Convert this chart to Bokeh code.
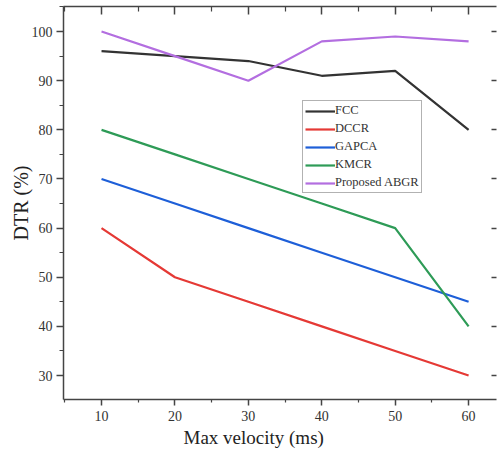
from bokeh.plotting import figure
from bokeh.models import Range1d, LinearAxis, Legend, LegendItem, FixedTicker, CustomJSTickFormatter, Title
from bokeh.embed import file_html
from bokeh.resources import INLINE

velocity = [10, 20, 30, 40, 50, 60]
fcc = [96, 95, 94, 91, 92, 80]
dccr = [60, 50, 45, 40, 35, 30]
gapca = [70, 65, 60, 55, 50, 45]
kmcr = [80, 75, 70, 65, 60, 40]
abgr = [100, 95, 90, 98, 99, 98]
x_ticks = [10, 20, 30, 40, 50, 60]
y_ticks = [30, 40, 50, 60, 70, 80, 90, 100]

FONT = "Liberation Serif"
AX = "#444444"

p = figure(width=500, height=453, output_backend="svg", toolbar_location=None,
           x_range=Range1d(4.82, 63.8), y_range=Range1d(25.12, 105.1),
           min_border_left=63, min_border_right=0, min_border_top=6, min_border_bottom=54,
           y_axis_label="DTR (%)")
p.outline_line_color = None
p.grid.visible = False
p.background_fill_color = "white"
p.border_fill_color = "white"

xt = FixedTicker(ticks=x_ticks, minor_ticks=[5, 15, 25, 35, 45, 55, 65])
yt = FixedTicker(ticks=y_ticks, minor_ticks=[25, 35, 45, 55, 65, 75, 85, 95, 105])

def style(ax):
    ax.axis_line_color = AX
    ax.axis_line_width = 1.5
    ax.major_tick_line_color = AX
    ax.minor_tick_line_color = AX
    ax.major_tick_line_width = 1.5
    ax.minor_tick_line_width = 1.2
    ax.major_label_text_font = FONT
    ax.major_label_text_font_size = "14px"
    ax.major_label_text_color = "#333333"
    ax.axis_label_text_font = FONT
    ax.axis_label_text_font_size = "20px"
    ax.axis_label_text_font_style = "normal"
    ax.axis_label_text_color = "#222222"

xa = p.xaxis[0]
xa.ticker = xt
style(xa)
xa.major_tick_out = 6
xa.major_tick_in = 0
xa.minor_tick_out = 3
xa.minor_tick_in = 0
xa.major_label_standoff = 5

ya = p.yaxis[0]
ya.ticker = yt
style(ya)
ya.major_tick_out = 7
ya.major_tick_in = 0
ya.minor_tick_out = 4
ya.minor_tick_in = 0
ya.major_label_standoff = 4
ya.axis_label_standoff = -3

blank = CustomJSTickFormatter(code="return ''")

top = LinearAxis(ticker=xt, formatter=blank)
style(top)
top.major_tick_in = 8
top.major_tick_out = 0
top.minor_tick_in = 5
top.minor_tick_out = 0
top.major_label_standoff = 0
p.add_layout(top, "above")

right = LinearAxis(ticker=yt, formatter=blank)
style(right)
right.axis_line_color = None
right.major_tick_in = 5
right.major_tick_out = 0
right.minor_tick_line_color = None
right.major_label_standoff = 0
p.add_layout(right, "right")

xtitle = Title(text="Max velocity (ms)", align="left", offset=120, standoff=3,
               text_font=FONT, text_font_size="19px", text_font_style="normal",
               text_color="#222222")
p.add_layout(xtitle, "below")

series = [("FCC", fcc, "#333333"), ("DCCR", dccr, "#e53935"), ("GAPCA", gapca, "#1e5fd8"),
          ("KMCR", kmcr, "#2e9b57"), ("Proposed ABGR", abgr, "#b36ee0")]
items = []
for name, ys, col in series:
    r = p.line(velocity, ys, line_color=col, line_width=2.2)
    items.append(LegendItem(label=name, renderers=[r]))

leg = Legend(items=items, location=(239, 206))
leg.label_text_font = FONT
leg.label_text_font_size = "12.5px"
leg.label_text_color = "#333333"
leg.glyph_width = 30
leg.glyph_height = 14
leg.label_height = 14
leg.label_standoff = 0
leg.spacing = 3
leg.padding = 2
leg.margin = 0
leg.border_line_color = "#666666"
leg.border_line_width = 1
leg.background_fill_color = "white"
p.add_layout(leg, "center")

open("out.html", "w").write(file_html(p, INLINE))
